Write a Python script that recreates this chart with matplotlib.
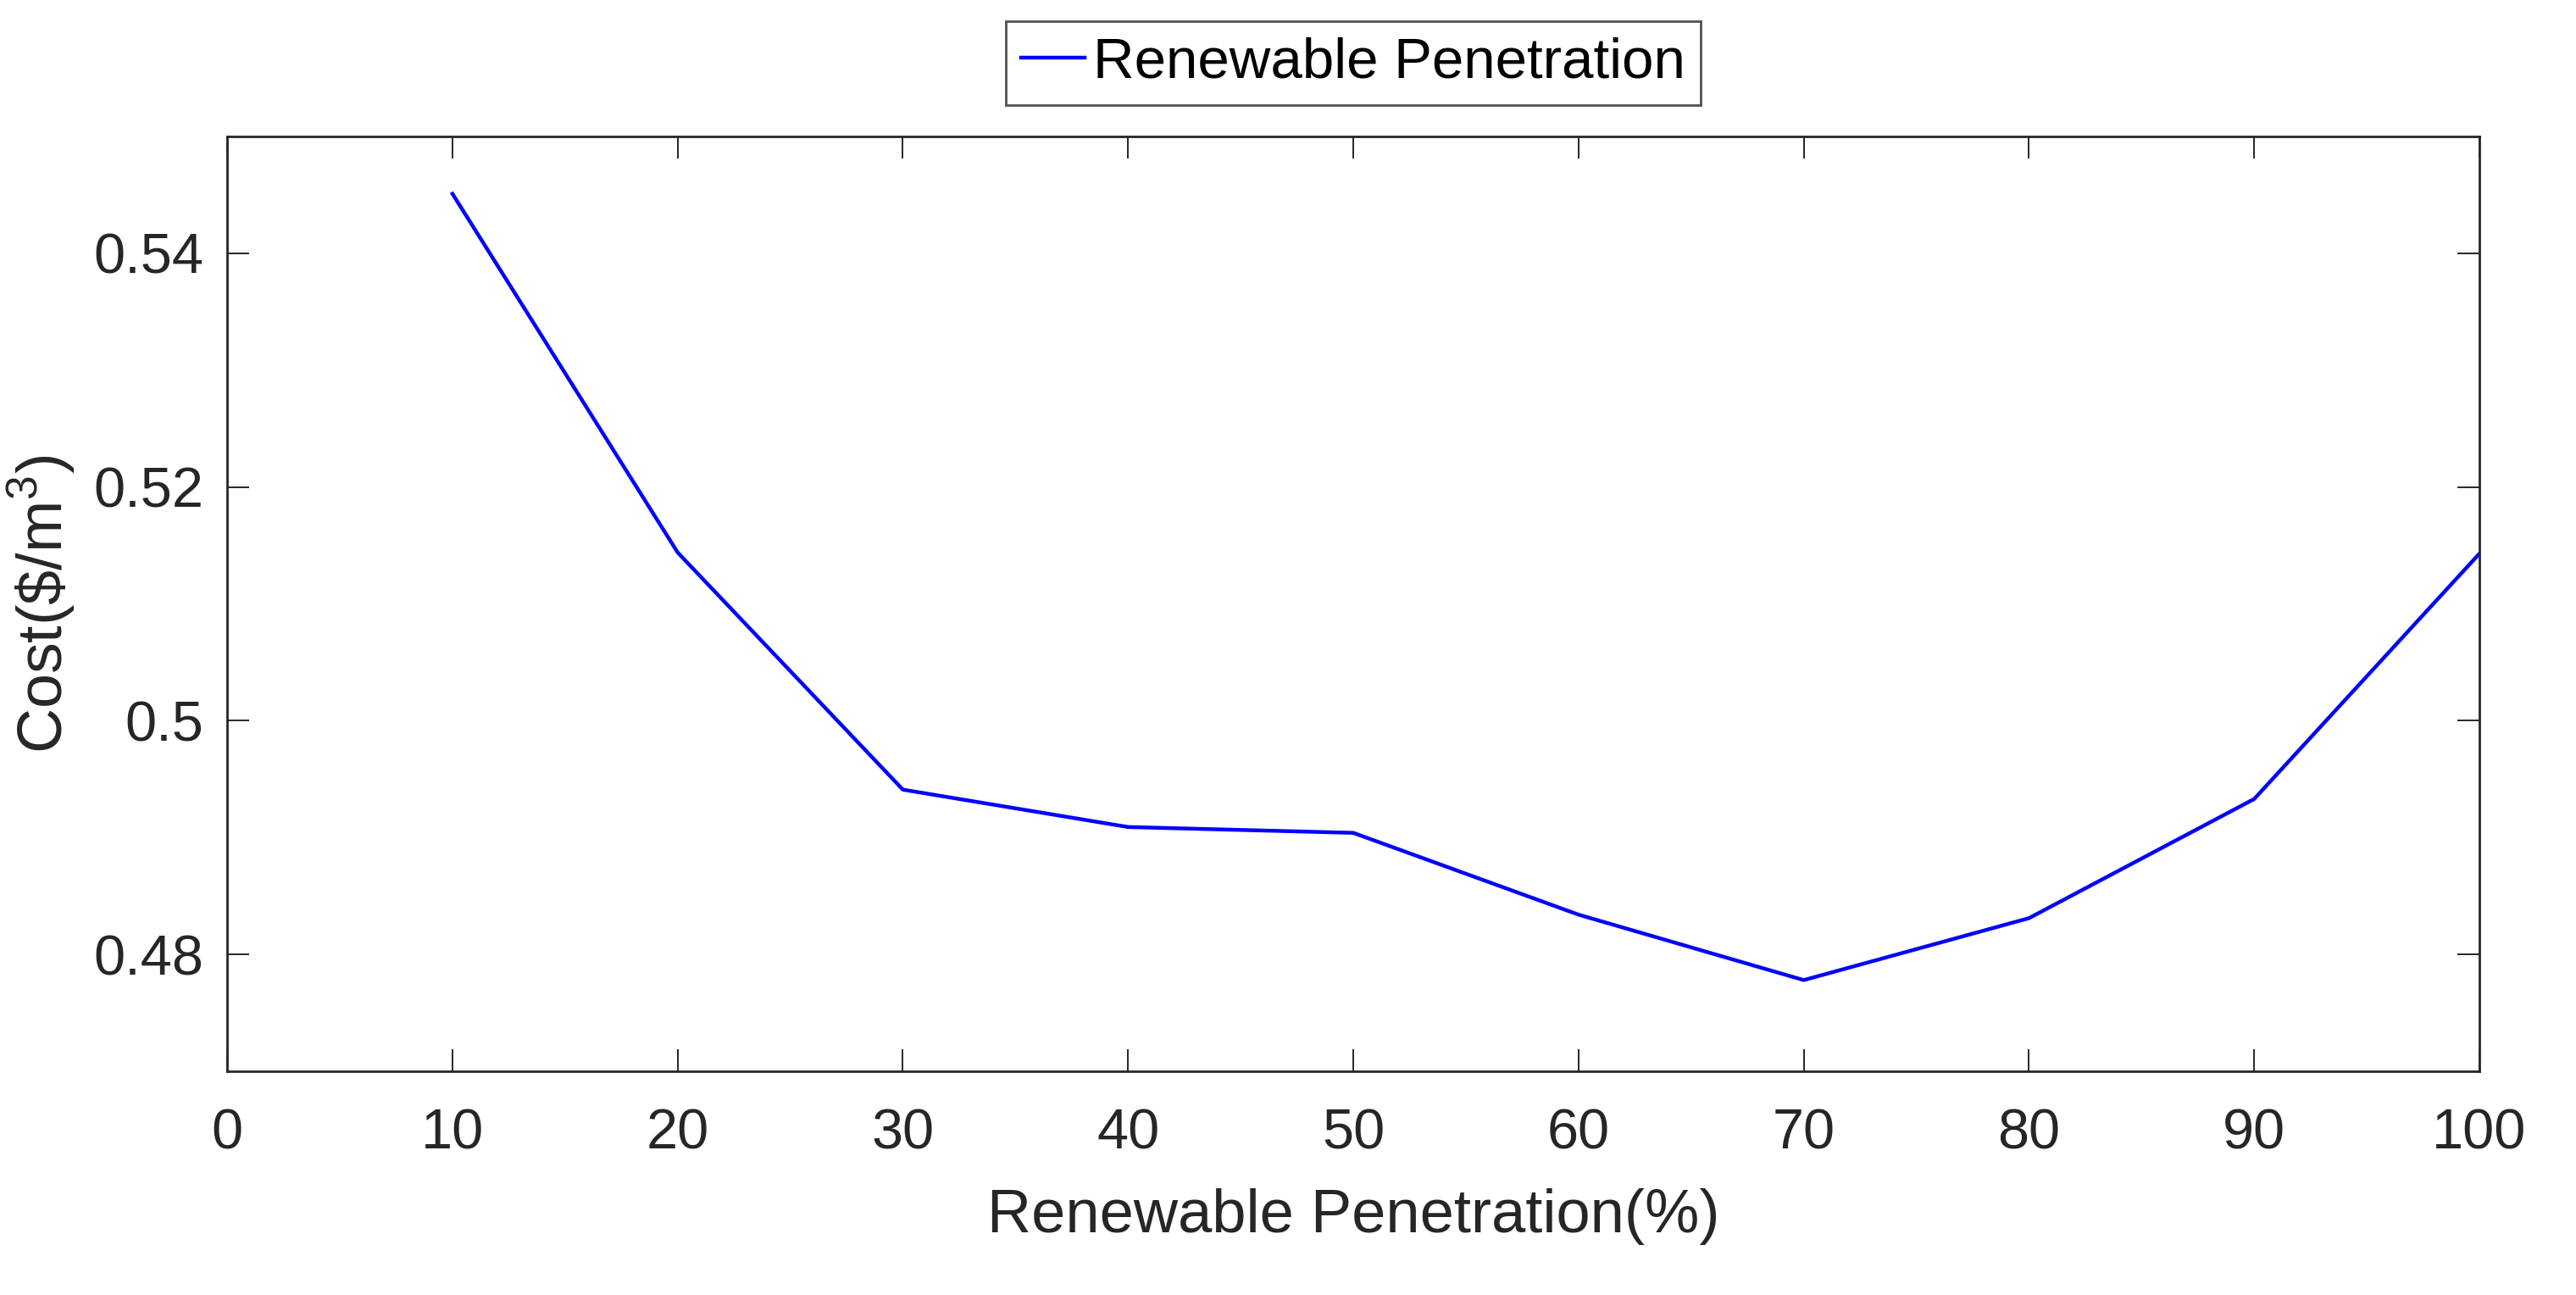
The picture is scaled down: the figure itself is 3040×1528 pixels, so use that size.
import matplotlib
matplotlib.use("Agg")
import matplotlib.pyplot as plt

# Data
penetration = [10, 20, 30, 40, 50, 60, 70, 80, 90, 100]
cost = [0.5451, 0.5144, 0.4941, 0.4909, 0.4904, 0.4834, 0.4778, 0.4831, 0.4933, 0.5143]
x_ticks = [0, 10, 20, 30, 40, 50, 60, 70, 80, 90, 100]
y_ticks = [0.48, 0.50, 0.52, 0.54]
y_tick_labels = ["0.48", "0.5", "0.52", "0.54"]

plt.rcParams['font.family'] = ['Liberation Sans', 'DejaVu Sans']
plt.rcParams['mathtext.fontset'] = 'custom'
plt.rcParams['mathtext.rm'] = 'Liberation Sans'

fig = plt.figure(figsize=(15.2, 7.64), dpi=200)
ax = fig.add_axes([0.0882, 0.1728, 0.9625 - 0.0882, 0.8946 - 0.1728])

line, = ax.plot(penetration, cost, color=(0, 0, 1), linewidth=1.6, label='Renewable Penetration')

ax.set_xlim(0, 100)
ax.set_ylim(0.47, 0.55)
ax.set_xticks(x_ticks)
ax.set_yticks(y_ticks)
ax.set_yticklabels(y_tick_labels)

dark = '#262626'
for sp in ax.spines.values():
    sp.set_color(dark)
    sp.set_linewidth(1.0)
ax.tick_params(direction='in', top=True, right=True, length=9.5, width=0.7,
               colors=dark, labelsize=24)
ax.tick_params(axis='x', pad=15.5)
ax.tick_params(axis='y', pad=10)

ax.set_xlabel('Renewable Penetration(%)', fontsize=26, color=dark, labelpad=12)
ax.set_ylabel(r'Cost(\$/m$^3$)', fontsize=26.5, color=dark, labelpad=7)

leg = fig.legend(handles=[line], loc='center', bbox_to_anchor=(0.5253, 0.9512),
                 fontsize=24.2, frameon=True, fancybox=False, handlelength=1.12,
                 handletextpad=0.15, borderpad=0.27, borderaxespad=0)
leg.get_frame().set_edgecolor(dark)
leg.get_frame().set_linewidth(1.0)

fig.savefig('out.png', dpi=200)
